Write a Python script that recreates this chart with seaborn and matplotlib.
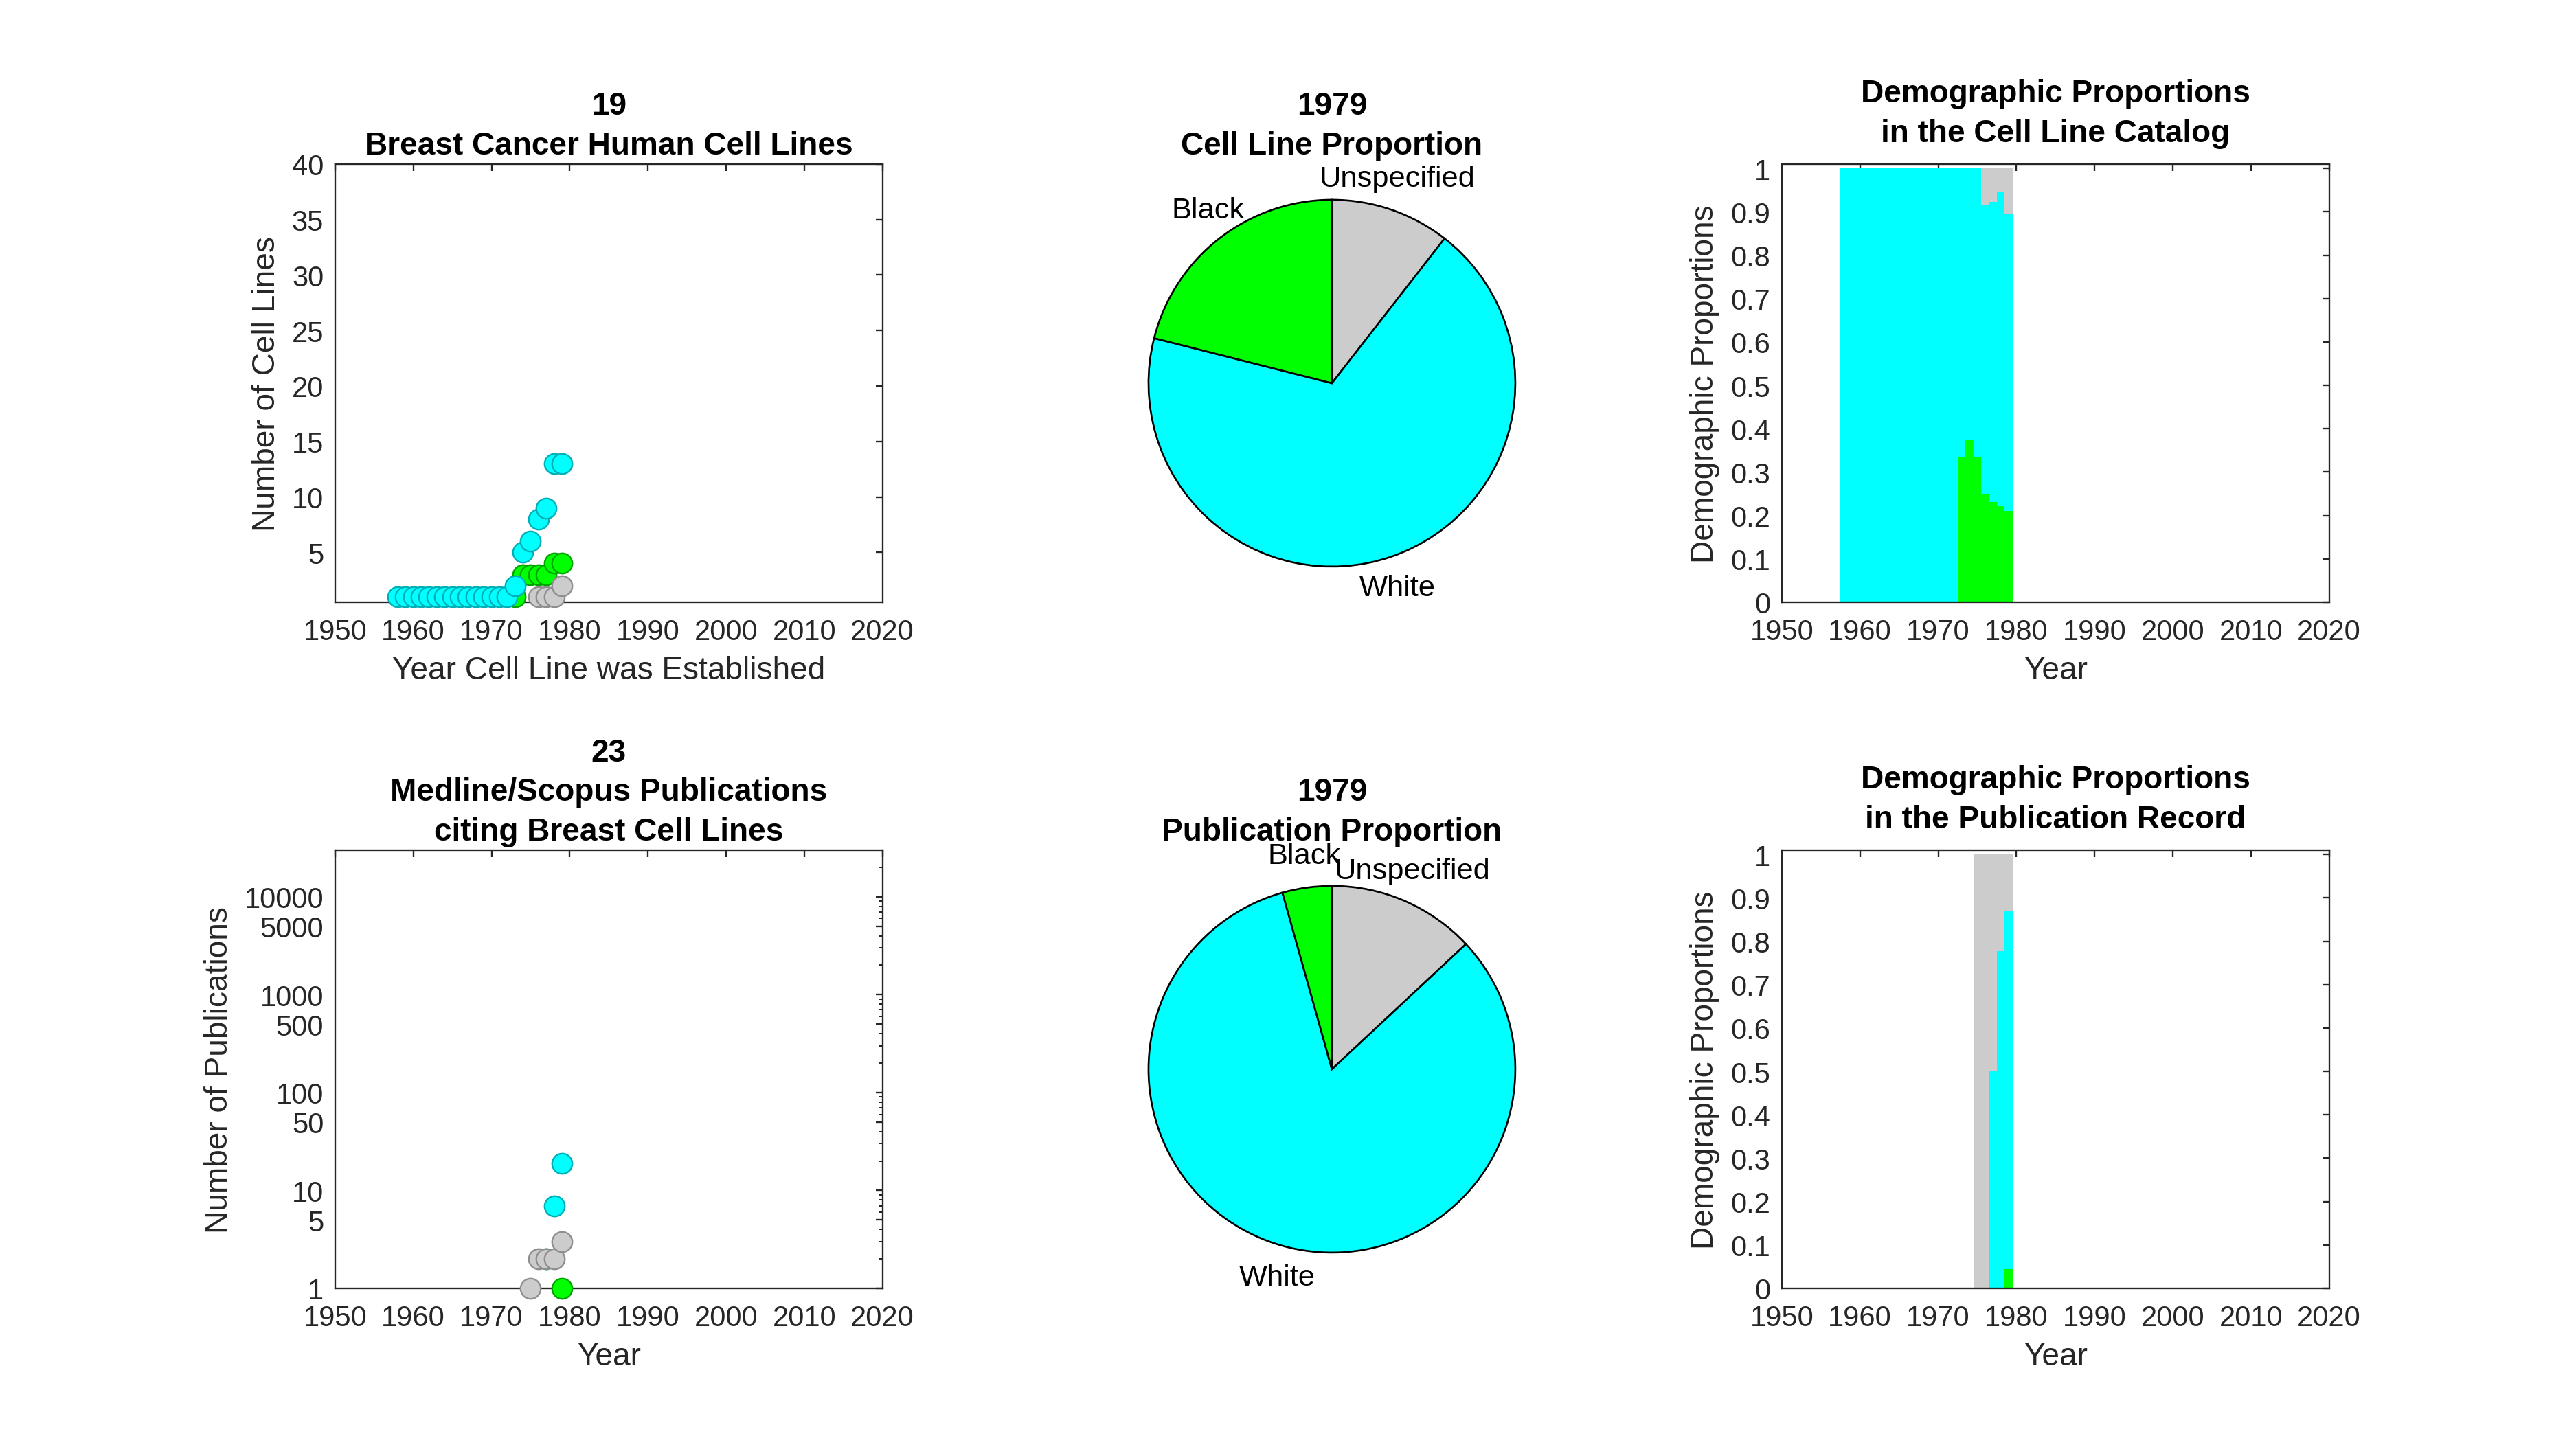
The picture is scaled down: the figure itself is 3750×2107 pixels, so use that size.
import matplotlib
matplotlib.use('Agg')
import numpy as np
import pandas as pd
import matplotlib.pyplot as plt
import matplotlib.ticker as mticker
import seaborn as sns

# Cumulative breast cancer cell lines per year
years_cells = [1958, 1959, 1960, 1961, 1962, 1963, 1964, 1965, 1966, 1967, 1968,
               1969, 1970, 1971, 1972, 1973, 1974, 1975, 1976, 1977, 1978, 1979]
black_cells = [0, 0, 0, 0, 0, 0, 0, 0, 0, 0, 0, 0, 0, 0, 0, 1, 3, 3, 3, 3, 4, 4]
white_cells = [1, 1, 1, 1, 1, 1, 1, 1, 1, 1, 1, 1, 1, 1, 1, 2, 5, 6, 8, 9, 13, 13]
unspec_cells = [0, 0, 0, 0, 0, 0, 0, 0, 0, 0, 0, 0, 0, 0, 0, 0, 0, 0, 1, 1, 1, 2]

# Publications citing those cell lines
years_pubs = [1975, 1976, 1977, 1978, 1979]
black_pubs = [0, 0, 0, 0, 1]
white_pubs = [0, 0, 2, 7, 19]
unspec_pubs = [1, 2, 2, 2, 3]

groups = ['Black', 'White', 'Unspecified']
face = {'Black': '#00FF00', 'White': '#00FFFF', 'Unspecified': '#CCCCCC'}
edge = {'Black': '#00A300', 'White': '#00AEB5', 'Unspecified': '#8E8E8E'}
year_ticks = [1950, 1960, 1970, 1980, 1990, 2000, 2010, 2020]


def to_long(years, black, white, unspec):
    series = {'Black': black, 'White': white, 'Unspecified': unspec}
    frames = [pd.DataFrame({'year': years, 'count': series[g], 'group': g}) for g in groups]
    df = pd.concat(frames, ignore_index=True)
    df['prop'] = df['count'] / df.groupby('year')['count'].transform('sum')
    return df


df_cells = to_long(years_cells, black_cells, white_cells, unspec_cells)
df_pubs = to_long(years_pubs, black_pubs, white_pubs, unspec_pubs)

sns.set_theme(style="white")
plt.rcParams['font.family'] = ['Liberation Sans', 'DejaVu Sans']
plt.rcParams['axes.edgecolor'] = '#262626'
plt.rcParams['axes.linewidth'] = 0.7
plt.rcParams['xtick.color'] = '#262626'
plt.rcParams['ytick.color'] = '#262626'
plt.rcParams['axes.labelcolor'] = '#262626'

TICK_FS = 12.5
LABEL_FS = 13.8
TITLE_FS = 13.8
PIE_FS = 13
LSP = 1.4

fig = plt.figure(figsize=(15.625, 8.7833), dpi=240)
col_left = [0.1301, 0.4108, 0.6917]
row_bottom = [0.5835, 0.1096]
W, H = 0.2125, 0.3027


def style_axes(ax):
    ax.tick_params(axis='both', which='major', direction='in', length=3, width=0.7,
                   top=True, right=True, labelsize=TICK_FS)
    ax.tick_params(axis='x', which='major', pad=7)
    ax.tick_params(axis='y', which='major', pad=5)
    ax.tick_params(axis='both', which='minor', direction='in', length=1.6, width=0.6,
                   top=True, right=True)
    for s in ax.spines.values():
        s.set_visible(True)


def scatter_panel(ax, df, title, ylabel, xlabel):
    for g in groups:
        sub = df[(df['group'] == g) & (df['count'] > 0)]
        sns.scatterplot(data=sub, x='year', y='count', ax=ax, color=face[g],
                        edgecolor=edge[g], linewidth=0.7, s=78, legend=False,
                        zorder=3, clip_on=False)
    ax.set_xlim(1950, 2020)
    ax.set_xticks(year_ticks)
    ax.set_xlabel(xlabel, fontsize=LABEL_FS, labelpad=4)
    ax.set_ylabel(ylabel, fontsize=LABEL_FS, labelpad=4.5)
    ax.set_title(title, fontsize=TITLE_FS, fontweight='bold', pad=4.5, linespacing=LSP,
                 color='black')
    style_axes(ax)


def stack_panel(ax, df, title):
    sns.histplot(data=df, x='year', weights='prop', hue='group',
                 hue_order=['Unspecified', 'White', 'Black'], multiple='stack',
                 discrete=True, shrink=1, palette=face, linewidth=0, alpha=1,
                 legend=False, ax=ax)
    ax.set_xlim(1950, 2020)
    ax.set_xticks(year_ticks)
    ax.set_ylim(0, 1.01)
    ax.set_yticks(np.arange(0, 1.01, 0.1))
    ax.yaxis.set_major_formatter(mticker.FuncFormatter(lambda v, p: f"{v:g}"))
    ax.set_xlabel('Year', fontsize=LABEL_FS, labelpad=4)
    ax.set_ylabel('Demographic Proportions', fontsize=LABEL_FS, labelpad=4.5)
    ax.set_title(title, fontsize=TITLE_FS, fontweight='bold', pad=10, linespacing=LSP,
                 color='black')
    style_axes(ax)


def pie_panel(ax, df, title):
    last_year = df['year'].max()
    last = df[df['year'] == last_year].set_index('group')['count']
    order = ['Unspecified', 'White', 'Black']
    wedges, texts = ax.pie(last[order].values, labels=order,
                           colors=[face[g] for g in order], startangle=90,
                           counterclock=False, labeldistance=1.1,
                           wedgeprops=dict(edgecolor='black', linewidth=0.8),
                           textprops=dict(fontsize=PIE_FS, color='black'))
    for t in texts:
        x, y = t.get_position()
        t.set_ha('center')
        t.set_va('bottom' if y > 0 else 'top')
    ax.set_xlim(-1.195, 1.195)
    ax.set_ylim(-1.195, 1.195)
    ax.set_aspect('equal')
    ax.set_title(f"{last_year}\n{title}", fontsize=TITLE_FS, fontweight='bold', pad=4.5,
                 linespacing=LSP, color='black')


# Top row: cell lines
ax1 = fig.add_axes([col_left[0], row_bottom[0], W, H])
total_cells = int(df_cells[df_cells['year'] == df_cells['year'].max()]['count'].sum())
scatter_panel(ax1, df_cells, f"{total_cells}\nBreast Cancer Human Cell Lines",
              'Number of Cell Lines', 'Year Cell Line was Established')
ax1.set_ylim(0.5, 40)
ax1.set_yticks([5, 10, 15, 20, 25, 30, 35, 40])

ax2 = fig.add_axes([col_left[1], row_bottom[0], W, H])
pie_panel(ax2, df_cells, 'Cell Line Proportion')

ax3 = fig.add_axes([col_left[2], row_bottom[0], W, H])
stack_panel(ax3, df_cells, 'Demographic Proportions\nin the Cell Line Catalog')

# Bottom row: publications
ax4 = fig.add_axes([col_left[0], row_bottom[1], W, H])
total_pubs = int(df_pubs[df_pubs['year'] == df_pubs['year'].max()]['count'].sum())
scatter_panel(ax4, df_pubs, f"{total_pubs}\nMedline/Scopus Publications\nciting Breast Cell Lines",
              'Number of Publications', 'Year')
ax4.set_yscale('log')
ax4.set_ylim(1, 30000)
ax4.set_yticks([1, 5, 10, 50, 100, 500, 1000, 5000, 10000])
ax4.yaxis.set_major_formatter(mticker.FuncFormatter(lambda v, p: f"{v:g}" if v < 1e5 else ''))
ax4.yaxis.set_minor_locator(mticker.LogLocator(base=10, subs=np.arange(2, 10)))
ax4.yaxis.set_minor_formatter(mticker.NullFormatter())
style_axes(ax4)

ax5 = fig.add_axes([col_left[1], row_bottom[1], W, H])
pie_panel(ax5, df_pubs, 'Publication Proportion')

ax6 = fig.add_axes([col_left[2], row_bottom[1], W, H])
stack_panel(ax6, df_pubs, 'Demographic Proportions\nin the Publication Record')

fig.savefig('out.png', dpi=240, facecolor='white')
plt.close(fig)
